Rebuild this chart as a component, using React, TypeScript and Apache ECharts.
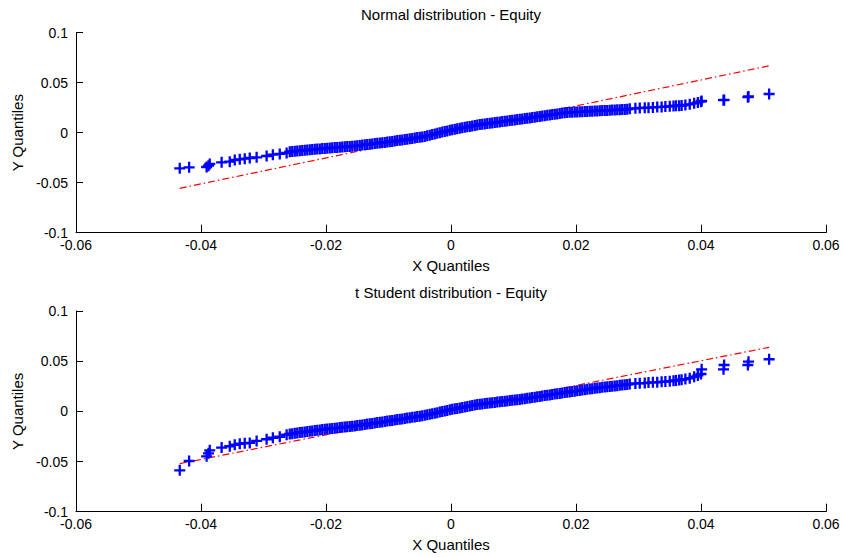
import React, { useEffect, useRef } from "react";
import * as echarts from "echarts";

// Sample quantiles on the x axis (shared by both panels)
const xQuantiles = [
  -0.0434, -0.0419, -0.0391, -0.0388, -0.0386, -0.0367, -0.0354, -0.0346, -0.0338, -0.033, -0.0322, -0.0311, -0.0295, -0.0285, -0.0274, -0.0263,
  -0.0258, -0.0254, -0.025, -0.0246, -0.0242, -0.0238, -0.0234, -0.023, -0.0226, -0.0222, -0.0218, -0.0214, -0.021, -0.0206,
  -0.0202, -0.0198, -0.0194, -0.019, -0.0186, -0.0182, -0.0178, -0.0174, -0.017, -0.0166, -0.0162, -0.0158, -0.0154,
  -0.015, -0.0146, -0.0142, -0.0138, -0.0134, -0.013, -0.0126, -0.0122, -0.0118, -0.0114, -0.011, -0.0106,
  -0.0102, -0.0098, -0.0094, -0.009, -0.0086, -0.0082, -0.0078, -0.0074, -0.007, -0.0066, -0.0062, -0.0058, -0.0054, -0.005, -0.0046,
  -0.0042, -0.0038, -0.0034, -0.003, -0.0026, -0.0022, -0.0018, -0.0014, -0.001, -0.0006, -0.0002,
  0.0002, 0.0006, 0.001, 0.0014, 0.0018, 0.0022, 0.0026, 0.003, 0.0034, 0.0038,
  0.0042, 0.0046, 0.005, 0.0054, 0.0058, 0.0062, 0.0066, 0.007, 0.0074, 0.0078, 0.0082, 0.0086, 0.009, 0.0094, 0.0098, 0.0102, 0.0106, 0.011, 0.0114,
  0.0118, 0.0122, 0.0126, 0.013, 0.0134, 0.0138, 0.0142, 0.0146, 0.015, 0.0154, 0.0158, 0.0162, 0.0166, 0.017, 0.0174, 0.0178, 0.0182,
  0.0186, 0.019, 0.0194, 0.0198, 0.0202, 0.0206, 0.021, 0.0214, 0.0218, 0.0222, 0.0226, 0.023, 0.0234, 0.0238,
  0.0242, 0.0246, 0.025, 0.0254, 0.0258, 0.0262, 0.0266, 0.027, 0.0274, 0.0278, 0.0282,
  0.0286, 0.0295, 0.0302, 0.031, 0.0316, 0.0323, 0.033, 0.0337, 0.0343, 0.035, 0.0356, 0.036, 0.0365, 0.0369, 0.0375, 0.0382, 0.0389, 0.0395, 0.04, 0.0401, 0.0436, 0.0437, 0.0475, 0.0476, 0.0509,
];

// Y quantiles, normal distribution panel
const yNormal = [
  -0.0356, -0.0346, -0.0343, -0.033, -0.0313, -0.0296, -0.029, -0.0273, -0.0266, -0.026, -0.0253, -0.0246, -0.0233, -0.022, -0.0212, -0.0202,
  -0.019, -0.0188, -0.0185, -0.0183, -0.0181, -0.0178, -0.0176, -0.0173, -0.0171, -0.0169, -0.0166, -0.0164, -0.0162, -0.0159,
  -0.0157, -0.0155, -0.0153, -0.0151, -0.0149, -0.0147, -0.0145, -0.0143, -0.0141, -0.0139, -0.0137, -0.0135, -0.0133,
  -0.013, -0.0127, -0.0124, -0.0121, -0.0118, -0.0115, -0.0112, -0.0109, -0.0106, -0.0103, -0.01, -0.0097,
  -0.0094, -0.0091, -0.0087, -0.0083, -0.0079, -0.0076, -0.0072, -0.0068, -0.0065, -0.0061, -0.0057, -0.0053, -0.0049, -0.0046, -0.0042,
  -0.0037, -0.0031, -0.0025, -0.0019, -0.0013, -0.0006, 0.0, 0.0006, 0.0012, 0.0018, 0.0024,
  0.0029, 0.0034, 0.0039, 0.0044, 0.0049, 0.0054, 0.0059, 0.0063, 0.0068, 0.0073,
  0.0078, 0.0081, 0.0084, 0.0088, 0.0091, 0.0094, 0.0098, 0.0101, 0.0104, 0.0108, 0.0111, 0.0114, 0.0117, 0.0121, 0.0124, 0.0127, 0.0131, 0.0134, 0.0137,
  0.0141, 0.0144, 0.0148, 0.0152, 0.0155, 0.0159, 0.0163, 0.0166, 0.017, 0.0174, 0.0177, 0.0181, 0.0185, 0.0188, 0.0192, 0.0196, 0.0199,
  0.0202, 0.0204, 0.0205, 0.0206, 0.0208, 0.0209, 0.021, 0.0212, 0.0213, 0.0214, 0.0215, 0.0217, 0.0218, 0.0219,
  0.0221, 0.0222, 0.0223, 0.0225, 0.0226, 0.0227, 0.0229, 0.023, 0.0231, 0.0233, 0.0234,
  0.024, 0.0244, 0.0247, 0.0249, 0.025, 0.0253, 0.0256, 0.0258, 0.0261, 0.0264, 0.0267, 0.0269, 0.027, 0.0272, 0.0277, 0.0284, 0.0294, 0.0303, 0.031, 0.0318, 0.0325, 0.0328, 0.0355, 0.0362, 0.0387,
];

// Y quantiles, t Student distribution panel
const yStudent = [
  -0.0588, -0.0495, -0.0448, -0.0418, -0.0388, -0.0361, -0.0348, -0.0333, -0.0323, -0.0318, -0.0315, -0.0295, -0.0278, -0.0263, -0.0253, -0.0233,
  -0.0225, -0.0222, -0.0218, -0.0215, -0.0212, -0.0208, -0.0205, -0.0202, -0.0198, -0.0195, -0.0192, -0.0188, -0.0185, -0.0182,
  -0.0179, -0.0176, -0.0173, -0.017, -0.0168, -0.0165, -0.0162, -0.0159, -0.0156, -0.0154, -0.0151, -0.0148, -0.0145,
  -0.0142, -0.0138, -0.0135, -0.0131, -0.0127, -0.0123, -0.012, -0.0116, -0.0112, -0.0108, -0.0105, -0.0101,
  -0.0097, -0.0093, -0.009, -0.0086, -0.0082, -0.0078, -0.0075, -0.0071, -0.0067, -0.0064, -0.006, -0.0056, -0.0052, -0.0049, -0.0045,
  -0.004, -0.0035, -0.0029, -0.0024, -0.0018, -0.0013, -0.0007, -0.0002, 0.0004, 0.0009, 0.0015,
  0.002, 0.0025, 0.0029, 0.0034, 0.0039, 0.0044, 0.0049, 0.0054, 0.0058, 0.0063,
  0.0068, 0.0071, 0.0074, 0.0077, 0.008, 0.0083, 0.0086, 0.0089, 0.0092, 0.0095, 0.0098, 0.0101, 0.0104, 0.0107, 0.011, 0.0113, 0.0116, 0.0119, 0.0122,
  0.0126, 0.013, 0.0134, 0.0137, 0.0141, 0.0145, 0.0149, 0.0153, 0.0157, 0.016, 0.0164, 0.0168, 0.0172, 0.0176, 0.0179, 0.0183, 0.0187,
  0.0191, 0.0194, 0.0198, 0.0201, 0.0205, 0.0208, 0.0212, 0.0215, 0.0219, 0.0222, 0.0226, 0.0229, 0.0233, 0.0236,
  0.0239, 0.0242, 0.0245, 0.0248, 0.0251, 0.0253, 0.0256, 0.0259, 0.0262, 0.0265, 0.0268,
  0.0272, 0.0278, 0.028, 0.0282, 0.0287, 0.0289, 0.029, 0.0294, 0.0297, 0.03, 0.0304, 0.0308, 0.0312, 0.0316, 0.0322, 0.033, 0.0345, 0.0358, 0.0372, 0.0419, 0.0419, 0.0462, 0.0462, 0.0495, 0.0519,
];

// Reference (fitted) lines
const refLineX = [-0.0434, 0.0509];
const refNormalY = [-0.0556, 0.0669];
const refStudentY = [-0.0521, 0.0638];

const titles = ["Normal distribution - Equity", "t Student distribution - Equity"];
const xAxisName = "X Quantiles";
const yAxisName = "Y Quantiles";
const xRange = [-0.06, 0.06, 0.02];
const yRange = [-0.1, 0.1, 0.05];

export default function App() {
  const ref = useRef<HTMLDivElement>(null);
  useEffect(() => {
    if (!ref.current) return;
    const chart = echarts.init(ref.current, null, { renderer: "svg" });
    const font = "'Liberation Sans', Arial, Helvetica, sans-serif";
    const fmt = (v: number) => String(Math.round(v * 100) / 100);
    const plus = "path://M0,5L10,5M5,0L5,10";
    const n = Math.min(xQuantiles.length, yNormal.length, yStudent.length);
    const pts = (ys: number[]) => xQuantiles.slice(0, n).map((x, i) => [x, ys[i]]);
    const line = (ys: number[]) => refLineX.map((x, i) => [x, ys[i]]);

    const xAxis = (gridIndex: number) => ({
      type: "value",
      gridIndex,
      min: xRange[0],
      max: xRange[1],
      interval: xRange[2],
      name: xAxisName,
      nameLocation: "middle",
      nameGap: 25,
      nameTextStyle: { fontFamily: font, fontSize: 15, color: "#000" },
      axisLine: { show: true, onZero: false, lineStyle: { color: "#000", width: 1 } },
      axisTick: { show: true, inside: true, length: 8, lineStyle: { color: "#000", width: 1 } },
      axisLabel: { fontFamily: font, fontSize: 14, color: "#000", margin: 5, formatter: fmt },
      splitLine: { show: false },
    });
    const yAxis = (gridIndex: number) => ({
      type: "value",
      gridIndex,
      min: yRange[0],
      max: yRange[1],
      interval: yRange[2],
      name: yAxisName,
      nameLocation: "middle",
      nameGap: 48,
      nameTextStyle: { fontFamily: font, fontSize: 15, color: "#000" },
      axisLine: { show: true, onZero: false, lineStyle: { color: "#000", width: 1 } },
      axisTick: { show: true, inside: true, length: 7, lineStyle: { color: "#000", width: 1 } },
      axisLabel: { fontFamily: font, fontSize: 14, color: "#000", margin: 8, formatter: fmt },
      splitLine: { show: false },
    });
    const titleStyle = { fontFamily: font, fontSize: 15, fontWeight: "normal", color: "#000" };
    const markerStyle = { color: "#0000ff", borderColor: "#0000ff", borderWidth: 2.3, opacity: 1 };
    const refStyle = { color: "#ff0000", width: 1.2, type: [7, 3, 1.5, 3] };

    chart.setOption({
      animation: false,
      backgroundColor: "#fff",
      title: [
        { text: titles[0], left: 451, top: 7, textAlign: "center", padding: 0, textStyle: titleStyle },
        { text: titles[1], left: 451, top: 285, textAlign: "center", padding: 0, textStyle: titleStyle },
      ],
      grid: [
        { left: 76, right: 17, top: 32.7, height: 200 },
        { left: 76, right: 17, top: 311, height: 200.7 },
      ],
      xAxis: [xAxis(0), xAxis(1)],
      yAxis: [yAxis(0), yAxis(1)],
      series: [
        {
          type: "line", xAxisIndex: 0, yAxisIndex: 0, data: line(refNormalY), showSymbol: false, silent: true, z: 1,
          lineStyle: refStyle,
        },
        {
          type: "scatter", xAxisIndex: 0, yAxisIndex: 0, data: pts(yNormal), symbol: plus, symbolSize: 11, z: 2,
          itemStyle: markerStyle,
        },
        {
          type: "line", xAxisIndex: 1, yAxisIndex: 1, data: line(refStudentY), showSymbol: false, silent: true, z: 1,
          lineStyle: refStyle,
        },
        {
          type: "scatter", xAxisIndex: 1, yAxisIndex: 1, data: pts(yStudent), symbol: plus, symbolSize: 11, z: 2,
          itemStyle: markerStyle,
        },
      ],
    });
    return () => chart.dispose();
  }, []);
  return <div ref={ref} style={{ position: "fixed", left: 0, top: 0, width: 843, height: 557 }} />;
}
